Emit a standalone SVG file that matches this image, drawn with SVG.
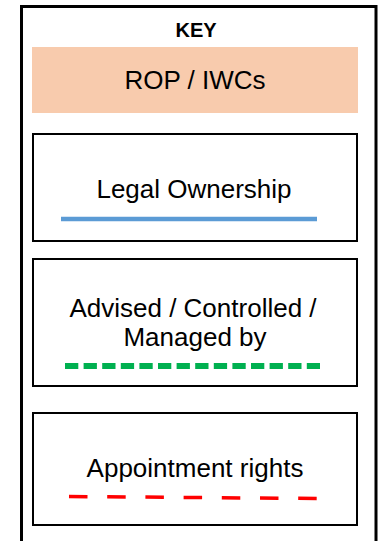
<svg xmlns="http://www.w3.org/2000/svg" width="383" height="541" viewBox="0 0 383 541">
<style>
  .t { font-family: "Liberation Sans", Arial, sans-serif; font-size: 26px; fill: #000; text-anchor: middle; }
  .box { fill: #fff; stroke: #000; stroke-width: 2; }
</style>
<rect x="0" y="0" width="383" height="541" fill="#fff"/>
<g id="frame">
  <rect x="21.5" y="6.5" width="354.5" height="545" fill="none" stroke="#000" stroke-width="3"/>
  <text x="196" y="37" class="t" style="font-size:20px;font-weight:bold">KEY</text>
</g>
<g id="rop">
  <rect x="32" y="47" width="326" height="66" fill="#F8CBAD"/>
  <text x="195" y="89" class="t">ROP / IWCs</text>
</g>
<g id="legal">
  <rect x="33" y="134" width="324" height="107" class="box"/>
  <text x="194" y="198" class="t">Legal Ownership</text>
</g>
<g id="advised">
  <rect x="33" y="259" width="324" height="127" class="box"/>
  <text x="193" y="317" class="t">Advised / Controlled /</text>
  <text x="195" y="346" class="t">Managed by</text>
</g>
<g id="appointment">
  <rect x="33" y="413" width="324" height="112" class="box"/>
  <text x="195" y="477" class="t">Appointment rights</text>
</g>
<g id="connectors">
  <line x1="61" y1="219" x2="317" y2="219" stroke="#5B9BD5" stroke-width="4.5"/>
  <line x1="65" y1="366" x2="320" y2="366" stroke="#00B050" stroke-width="6" stroke-dasharray="13.3 5.3"/>
  <line x1="69" y1="496.5" x2="317" y2="498.5" stroke="#FF0000" stroke-width="3.5" stroke-dasharray="18.5 19.7"/>
</g>
</svg>
